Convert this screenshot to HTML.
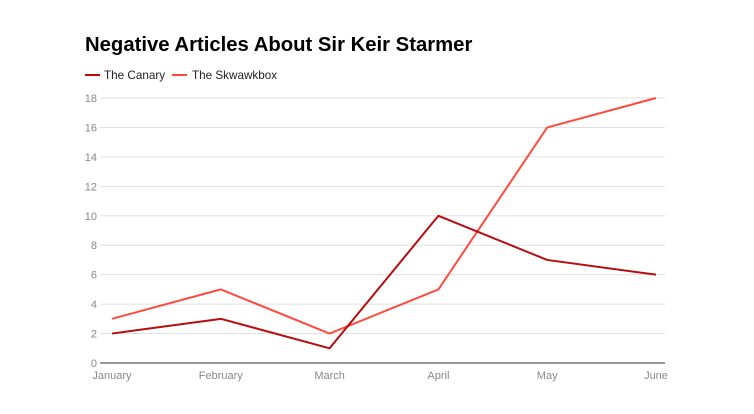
<!DOCTYPE html>
<html><head><meta charset="utf-8"><style>
body{margin:0;background:#fff;font-family:"Liberation Sans",Arial,sans-serif}
svg{display:block}
</style></head><body>
<svg id="chart" width="754" height="414">
<text x="85" y="51" font-size="20.3" font-weight="bold" fill="#000">Negative Articles About Sir Keir Starmer</text>
<g>
<line x1="85" y1="75" x2="100" y2="75" stroke="#b80d0d" stroke-width="2"/>
<text x="104" y="79" font-size="11.7" fill="#222">The Canary</text>
<line x1="172" y1="75" x2="187" y2="75" stroke="#ff4b3e" stroke-width="2"/>
<text x="192" y="79" font-size="11.7" fill="#222">The Skwawkbox</text>
</g>
<g id="grid"></g><g id="axes"></g><g id="series"></g>
</svg>
<script>
const categories=["January","February","March","April","May","June"];
const canary=[2,3,1,10,7,6];
const skwawkbox=[3,5,2,5,16,18];
const yTicks=[0,2,4,6,8,10,12,14,16,18];
const NS="http://www.w3.org/2000/svg";
const x0=112,x1=656,yBase=363,yTop=98,yMax=18;
const xs=i=>x0+(x1-x0)*i/(categories.length-1);
const ys=v=>yBase-(yBase-yTop)*v/yMax;
function mk(t,a,p){const e=document.createElementNS(NS,t);for(const k in a)e.setAttribute(k,a[k]);p.appendChild(e);return e;}
const grid=document.getElementById('grid'),axes=document.getElementById('axes'),ser=document.getElementById('series');
yTicks.forEach(v=>{
 const l=mk('line',{x1:100,x2:665,y1:ys(v),y2:ys(v),stroke:v===0?'#333':'#e0e0e0','stroke-width':1},grid);
 
 
 const t=mk('text',{x:97,y:ys(v)+4,'text-anchor':'end','font-size':11,fill:'#888'},axes);
 t.textContent=v;
 
 
});
categories.forEach((c,i)=>{
 const t=mk('text',{x:xs(i),y:379,'text-anchor':'middle','font-size':11,fill:'#888'},axes);
 t.textContent=c;
 
 
});
function line(d,col,name){
 const p=mk('polyline',{points:d.map((v,i)=>xs(i)+','+ys(v)).join(' '),fill:'none',stroke:col,'stroke-width':2,'stroke-linejoin':'round'},ser);
 
 
}
line(skwawkbox,'#ff4b3e','series-skwawkbox');
line(canary,'#b80d0d','series-canary');
</script>
</body></html>
